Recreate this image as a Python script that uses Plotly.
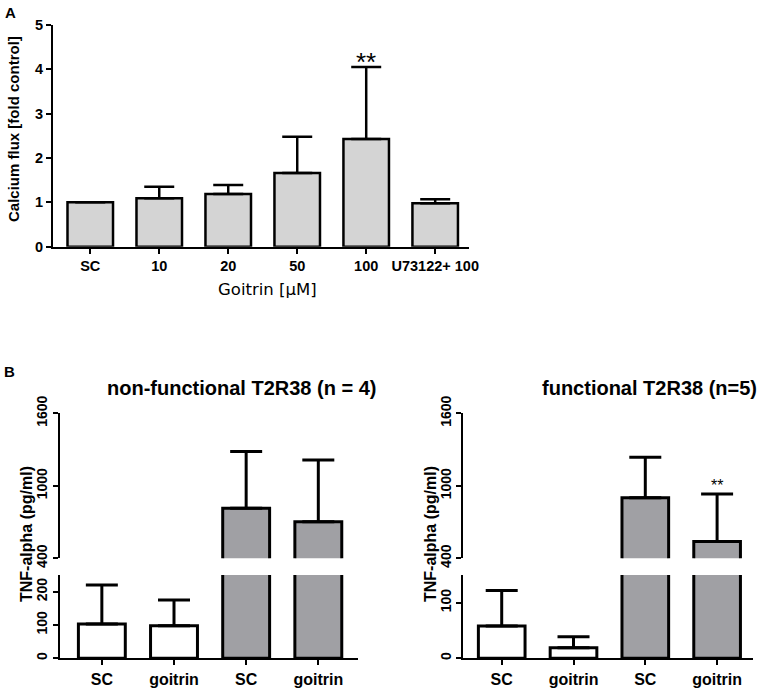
import plotly.graph_objects as go

# ---------------- data ----------------
a_categories = ["SC", "10", "20", "50", "100", "U73122+ 100"]
a_means = [1.0, 1.09, 1.19, 1.66, 2.43, 0.98]
a_errors = [0.0, 0.26, 0.20, 0.82, 1.62, 0.09]
a_yticks = [0, 1, 2, 3, 4, 5]

b_categories = ["SC", "goitrin", "SC", "goitrin"]

nf_white_means = [103, 98]
nf_white_errors = [117, 77]
nf_gray_means = [814, 703]
nf_gray_errors = [469, 511]

f_white_means = [58, 19]
f_white_errors = [64, 20]
f_gray_means = [902, 538]
f_gray_errors = [334, 394]

upper_ticks = [400, 1000, 1600]
nf_lower_ticks = [0, 100, 200]
f_lower_ticks = [0, 100]

# ---------------- styling ----------------
W, H = 765, 689
FONT = "Liberation Sans, Arial, sans-serif"
LIGHT = "#d4d4d4"
GRAY = "#a0a0a4"
LW = 2.5


def px_x(v):
    return v / W


def px_y(v):
    return 1 - v / H


fig = go.Figure()

# Panel A
fig.add_trace(go.Bar(
    x=list(range(len(a_categories))), y=a_means, width=0.66,
    marker=dict(color=LIGHT, line=dict(color="black", width=LW)),
    error_y=dict(type="data", symmetric=False, array=a_errors,
                 arrayminus=[0] * len(a_errors), color="black",
                 thickness=LW, width=15),
    xaxis="x", yaxis="y", showlegend=False, hoverinfo="skip",
))


def add_panel_b(white_m, white_e, gray_m, gray_e, xl, yl, xu, yu):
    # lower segment
    fig.add_trace(go.Bar(
        x=[0, 1], y=white_m, width=0.65,
        marker=dict(color="white", line=dict(color="black", width=3)),
        error_y=dict(type="data", symmetric=False, array=white_e,
                     arrayminus=[0, 0], color="black", thickness=3, width=16),
        xaxis=xl, yaxis=yl, showlegend=False, hoverinfo="skip",
    ))
    fig.add_trace(go.Bar(
        x=[2, 3], y=gray_m, width=0.65,
        marker=dict(color=GRAY, line=dict(color="black", width=3)),
        xaxis=xl, yaxis=yl, showlegend=False, hoverinfo="skip",
    ))
    # upper segment
    fig.add_trace(go.Bar(
        x=[2, 3], y=gray_m, width=0.65,
        marker=dict(color=GRAY, line=dict(color="black", width=3)),
        error_y=dict(type="data", symmetric=False, array=gray_e,
                     arrayminus=[0, 0], color="black", thickness=3, width=16),
        xaxis=xu, yaxis=yu, showlegend=False, hoverinfo="skip",
    ))


add_panel_b(nf_white_means, nf_white_errors, nf_gray_means, nf_gray_errors,
            "x2", "y2", "x3", "y3")
add_panel_b(f_white_means, f_white_errors, f_gray_means, f_gray_errors,
            "x4", "y4", "x5", "y5")

axis_common = dict(showline=True, linecolor="black", linewidth=2,
                   ticks="outside", ticklen=5, tickwidth=2, tickcolor="black",
                   showgrid=False, zeroline=False, fixedrange=True,
                   automargin=False)

tickfont_a = dict(family=FONT, size=14.5, color="black", weight="bold")
tickfont_b = dict(family=FONT, size=16, color="black", weight="bold")
ytickfont_b = dict(family=FONT, size=14, color="black", weight="bold")

bl_x = [px_x(60), px_x(358)]
br_x = [px_x(463.3), px_x(753)]
upper_y = [px_y(558.3), px_y(413.3)]
lower_y = [px_y(658.3), px_y(575)]

fig.update_layout(
    template="none",
    width=W, height=H,
    margin=dict(l=0, r=0, t=0, b=0, pad=0),
    paper_bgcolor="white", plot_bgcolor="white",
    barmode="overlay",
    font=dict(family=FONT, color="black"),
    # Panel A
    xaxis=dict(domain=[px_x(53), px_x(469)], range=[-0.54, 5.49],
               tickvals=list(range(len(a_categories))), ticktext=a_categories,
               tickfont=tickfont_a, anchor="y", **axis_common),
    yaxis=dict(domain=[px_y(246.7), px_y(25)], range=[0, 5],
               tickvals=a_yticks, tickfont=tickfont_a, anchor="x",
               **axis_common),
    # Panel B left
    xaxis2=dict(domain=bl_x, range=[-0.58, 3.55], tickvals=[0, 1, 2, 3],
                ticktext=b_categories, tickfont=tickfont_b, anchor="y2",
                **axis_common),
    yaxis2=dict(domain=lower_y, range=[0, 250], tickvals=nf_lower_ticks,
                tickangle=-90, tickfont=ytickfont_b, anchor="x2",
                **axis_common),
    xaxis3=dict(domain=bl_x, range=[-0.58, 3.55], visible=False,
                anchor="y3", fixedrange=True, automargin=False),
    yaxis3=dict(domain=upper_y, range=[400, 1600], tickvals=upper_ticks,
                tickangle=-90, tickfont=ytickfont_b, anchor="x3",
                **axis_common),
    # Panel B right
    xaxis4=dict(domain=br_x, range=[-0.535, 3.5], tickvals=[0, 1, 2, 3],
                ticktext=b_categories, tickfont=tickfont_b, anchor="y4",
                **axis_common),
    yaxis4=dict(domain=lower_y, range=[0, 150], tickvals=f_lower_ticks,
                tickangle=-90, tickfont=ytickfont_b, anchor="x4",
                **axis_common),
    xaxis5=dict(domain=br_x, range=[-0.535, 3.5], visible=False,
                anchor="y5", fixedrange=True, automargin=False),
    yaxis5=dict(domain=upper_y, range=[400, 1600], tickvals=upper_ticks,
                tickangle=-90, tickfont=ytickfont_b, anchor="x5",
                **axis_common),
)

annotations = [
    dict(text="A", x=px_x(10), y=px_y(13), font=dict(size=15, weight="bold")),
    dict(text="B", x=px_x(9), y=px_y(371), font=dict(size=15, weight="bold")),
    dict(text="Calcium flux [fold control]", x=px_x(13), y=px_y(129),
         textangle=-90, font=dict(size=15, weight="bold")),
    dict(text="Goitrin [µM]", x=px_x(267), y=px_y(289.5),
         font=dict(size=16.5, family="DejaVu Sans")),
    dict(text="non-functional T2R38 (n = 4)", x=px_x(241), y=px_y(388),
         font=dict(size=20, weight="bold")),
    dict(text="functional T2R38 (n=5)", x=px_x(649), y=px_y(388),
         font=dict(size=20, weight="bold")),
    dict(text="TNF-alpha (pg/ml)", x=px_x(26), y=px_y(534),
         textangle=-90, font=dict(size=16, weight="bold")),
    dict(text="TNF-alpha (pg/ml)", x=px_x(430), y=px_y(534),
         textangle=-90, font=dict(size=16, weight="bold")),
]
for a in annotations:
    a.update(xref="paper", yref="paper", showarrow=False,
             xanchor="center", yanchor="middle")
    a["font"].setdefault("family", FONT)
    a["font"].update(color="black")
    fig.add_annotation(**a)

# significance marks (data coordinates)
fig.add_annotation(text="**", x=4, y=4.05, xref="x", yref="y",
                   yanchor="bottom", yshift=-12, showarrow=False,
                   font=dict(family=FONT, size=26, color="black"))
fig.add_annotation(text="**", x=3, y=f_gray_means[1] + f_gray_errors[1],
                   xref="x5", yref="y5", yanchor="bottom", yshift=-2,
                   showarrow=False,
                   font=dict(family=FONT, size=16, color="black"))

fig.write_html(
    "out.html",
    config={"displayModeBar": False, "staticPlot": True},
    post_script="document.body.style.margin='0';"
                "document.body.style.overflow='hidden';",
)
